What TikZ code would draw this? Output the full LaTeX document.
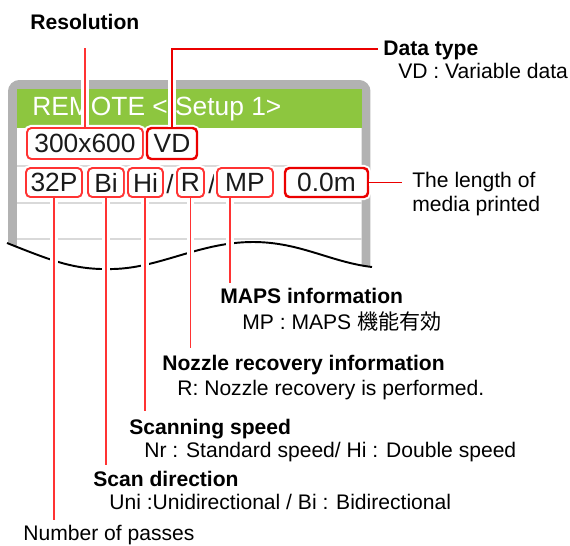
\documentclass[tikz,border=0pt]{standalone}
\usepackage{fontspec}
\setmainfont{Liberation Sans}
\newfontfamily\cjkfont{Noto Sans CJK JP}
\usepackage{tikz}
\usepackage{xcolor}
\definecolor{cFrame}{RGB}{178,178,178}
\definecolor{cGreen}{RGB}{141,198,63}
\definecolor{cRule}{RGB}{217,217,217}
\definecolor{cRed}{RGB}{255,51,51}
\definecolor{cDeep}{RGB}{235,0,0}
\definecolor{cInk}{RGB}{26,26,26}
\tikzset{
	field/.style ={rectangle, rounded corners=2.5pt, draw=cRed, line width=1.1pt, fill=white, text=cInk, inner sep=0pt, font=\fontsize{15}{18}\selectfont, preaction={draw=white, line width=3.6pt}},
	strong/.style={draw=cDeep, line width=1.4pt},
	callout/.style={cRed, line width=1.1pt, preaction={draw=white, line width=4pt}},
	% text styles
	lbl/.style   ={anchor=base west, inner sep=0pt, font=\fontsize{12}{14}\selectfont\bfseries},
	note/.style  ={anchor=base west, inner sep=0pt},
}

\begin{document}
\begin{tikzpicture}[x=0.02cm, y=-0.02cm, every node/.style={font=\fontsize{12}{14}\selectfont}]
	\useasboundingbox (0,0) rectangle (570,545);
	% panel
	\draw[cFrame, line width=5.1pt, rounded corners=4pt] (12.5,290) -- (12.5,84.5) -- (366,84.5) -- (366,290);
	\fill[cGreen] (17,89) rectangle (362,128);
	\foreach \y in {166,203,239}
		\draw[cRule, line width=0.6pt] (17,\y) -- (362,\y);
	\node[anchor=base west, inner sep=0pt, text=white, font=\fontsize{15}{18}\selectfont] (title) at (32,115) {REMOTE < Setup 1>};
	\fill[white] (7,243) .. controls (55,262) and (75,270) .. (113,269) .. controls (160,268) and (200,242) .. (253,242) .. controls (300,242) and (330,262) .. (372,267) -- (376,300) -- (4,300) -- cycle;
	\draw[black, line width=1.1pt] (7,243) .. controls (55,262) and (75,270) .. (113,269) .. controls (160,268) and (200,242) .. (253,242) .. controls (300,242) and (330,262) .. (372,267);
	\node[anchor=base, inner sep=0pt, text=cInk, font=\fontsize{15}{18}\selectfont] (sl1) at (170,193) {/};
	\node[anchor=base, inner sep=0pt, text=cInk, font=\fontsize{15}{18}\selectfont] (sl2) at (212,193) {/};
	% callout ends
	\coordinate (resend) at (85,48);
	\coordinate (vdend) at (378,49);
	\coordinate (lenend) at (402,182.5);
	\coordinate (mapsend) at (230,283);
	\coordinate (nozend) at (190.5,348);
	\coordinate (spdend) at (145,411);
	\coordinate (dirend) at (106,465);
	\coordinate (passend) at (54,520);
	% fields
	\node[field, minimum width=2.32cm, minimum height=0.62cm] (res) at (85,143.5) {300x600};
	\node[field, strong, minimum width=1.0cm, minimum height=0.62cm] (vd) at (172,143.5) {VD};
	\node[field, minimum width=1.12cm, minimum height=0.58cm] (pass) at (54,182.5) {32P};
	\node[field, minimum width=0.72cm, minimum height=0.58cm] (dir) at (106,182.5) {Bi};
	\node[field, minimum width=0.70cm, minimum height=0.58cm] (spd) at (145.5,182.5) {Hi};
	\node[field, minimum width=0.54cm, minimum height=0.58cm] (noz) at (190.5,182.5) {R};
	\node[field, minimum width=1.12cm, minimum height=0.58cm] (maps) at (245,182.5) {MP};
	\node[field, strong, minimum width=1.66cm, minimum height=0.58cm] (len) at (326.5,182.5) {0.0m};
	\draw[callout] (res) -- (resend);
	\draw[callout, cDeep] (vd) |- (vdend);
	\draw[callout, cDeep] (len) -- (lenend);
	\draw[callout] (maps.south -| mapsend) -- (mapsend);
	\draw[callout] (noz) -- (nozend);
	\draw[callout] (spd.south -| spdend) -- (spdend);
	\draw[callout] (dir) -- (dirend);
	\draw[callout] (pass) -- (passend);
	% labels
	\node[lbl] (reslbl) at (30,29) {Resolution};
	\node[lbl] (vdlbl) at (383,55) {Data type};
	\node[note] (vdtxt) at (398,78) {VD : Variable data};
	\node[note] (lentxt) at (412,187) {The length of};
	\node[note] (lentxt2) at (412,211) {media printed};
	\node[lbl] (mapslbl) at (220,303) {MAPS information};
	\node[note] (mapstxt) at (242,329) {MP : MAPS {\cjkfont 機能有効}};
	\node[lbl] (nozlbl) at (162,370) {Nozzle recovery information};
	\node[note] (noztxt) at (177,395) {R: Nozzle recovery is performed.};
	\node[lbl] (spdlbl) at (129,434) {Scanning speed};
	\node[note] (spdtxt) at (144,457) {Nr : Standard speed/ Hi : Double speed};
	\node[lbl] (dirlbl) at (93,486) {Scan direction};
	\node[note] (dirtxt) at (109,509) {Uni :Unidirectional / Bi : Bidirectional};
	\node[note] (passlbl) at (23,540) {Number of passes};
\end{tikzpicture}
\end{document}
